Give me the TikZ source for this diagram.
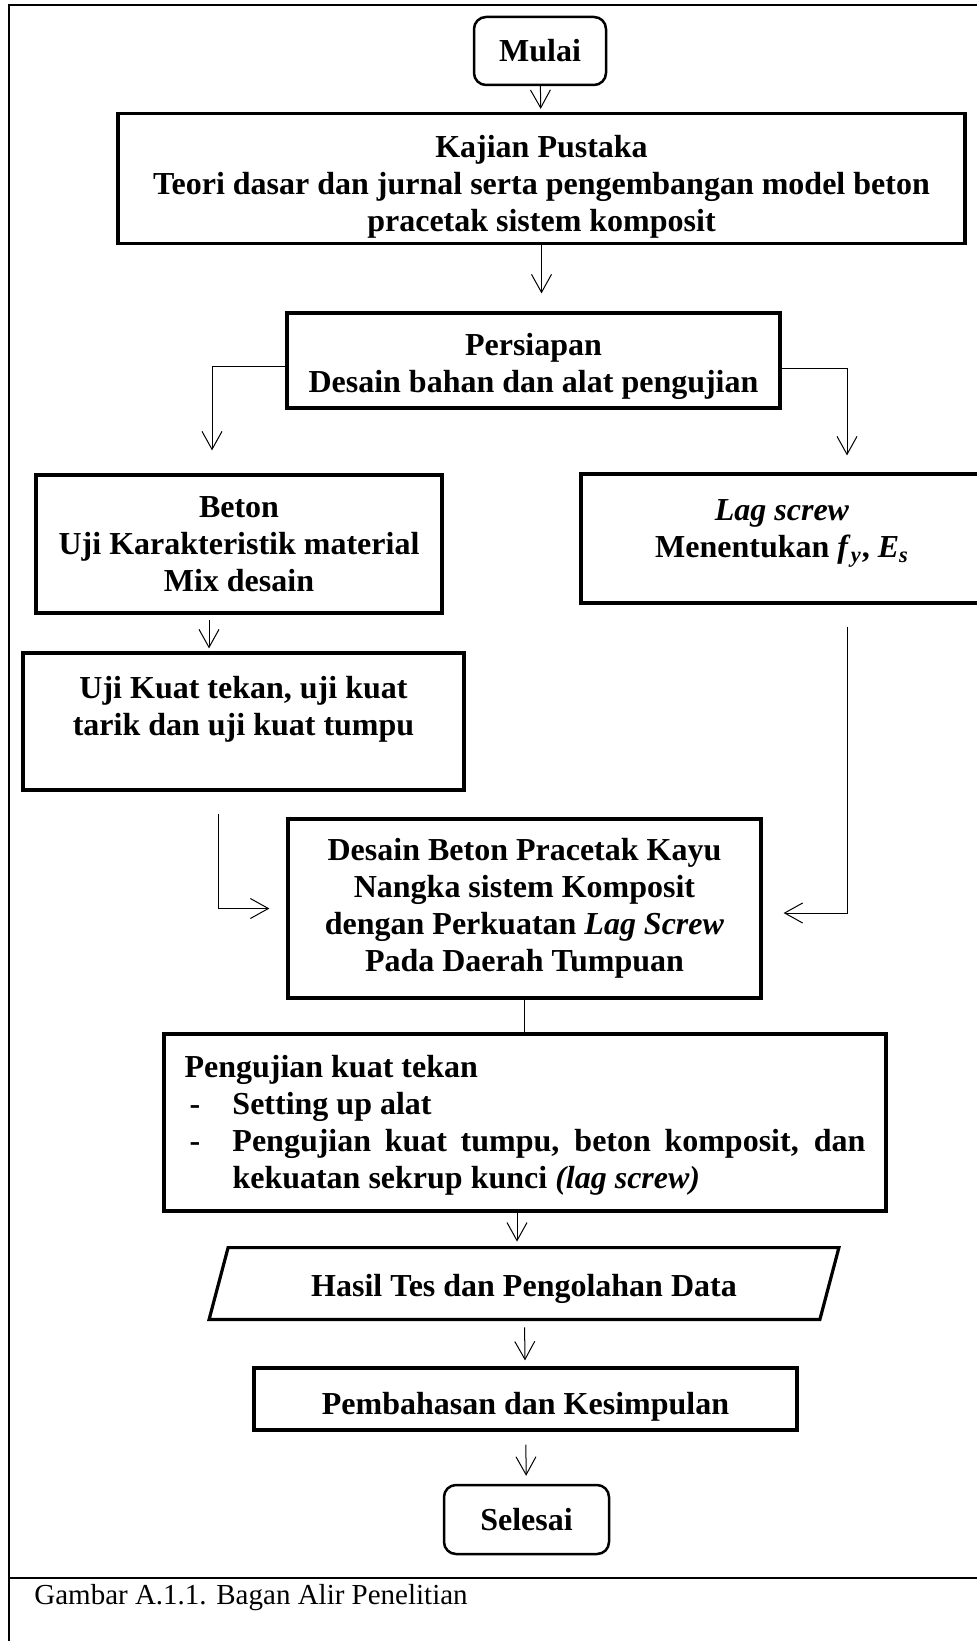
\documentclass[tikz,border=0pt]{standalone}
\usepackage{fontspec}
\setmainfont{Liberation Serif}
\usetikzlibrary{arrows.meta}

\begin{document}
\begin{tikzpicture}[x=0.5pt,y=-0.5pt,
	txt/.style={align=center, inner sep=0pt, font=\fontsize{16}{18.5}\selectfont\bfseries},
	outline/.style={line width=1.6pt},
	box/.style={txt, draw, outline},
	roundbox/.style={txt, draw, line width=1.25pt, rounded corners=6pt},
	conn/.style={line width=0.5pt},
	arr/.style={conn, -{Straight Barb[length=9pt,width=10pt]}},
	pageline/.style={line width=1.1pt}]
			\useasboundingbox (0,0) rectangle (977,1641);
			\clip (0,0) rectangle (977,1641);
			\draw[pageline] (995,5) -- (9,5) -- (9,1660);
			\draw[pageline] (9,1578) -- (995,1578);
			\node[roundbox, minimum width=66pt, minimum height=34pt] (mulai) at (540,51) {Mulai};
			\node[box, minimum width=423.5pt, minimum height=65pt] (kajian) at (541.5,178.5) {\rule{0pt}{19pt}Kajian Pustaka\\ Teori dasar dan jurnal serta pengembangan model beton\\ pracetak sistem komposit};
			\node[box, minimum width=246.5pt, minimum height=47.5pt] (persiapan) at (533.5,360.5) {\rule{0pt}{17.5pt}Persiapan\\ Desain bahan dan alat pengujian};
			\node[box, minimum width=203pt, minimum height=69pt] (beton) at (239,544) {Beton\\ Uji Karakteristik material\\ Mix desain};
			\node[box, minimum width=201pt, minimum height=64.5pt] (lag) at (782,538.5) {\rule{0pt}{19pt}\textit{Lag screw}\\ Menentukan \textit{f}\textsubscript{\textit{y}}, \textit{E}\textsubscript{\textit{s}}\\ \mbox{}};
			\node[box, minimum width=220.5pt, minimum height=68.5pt] (uji) at (243.5,721.5) {\rule{0pt}{14pt}Uji Kuat tekan, uji kuat\\ tarik dan uji kuat tumpu\\ \mbox{}};
			\node[box, minimum width=236.5pt, minimum height=89.5pt] (desain) at (524.5,908.5) {Desain Beton Pracetak Kayu\\ Nangka sistem Komposit\\ dengan Perkuatan \textit{Lag Screw}\\ Pada Daerah Tumpuan};
			\node[box, minimum width=361pt, minimum height=88.5pt, text width=340.5pt, align=flush left] (pengujian) at (525,1122.5) {\rule{0pt}{14pt}Pengujian kuat tekan\\
				\makebox[24pt][l]{\hspace{2.5pt}-}Setting up alat\\
				\makebox[24pt][l]{\hspace{2.5pt}-}\parbox[t]{316.5pt}{Pengujian kuat tumpu, beton komposit, dan\linebreak kekuatan sekrup kunci \textit{(lag screw)}}};
			\node[txt, minimum width=305pt, minimum height=35.5pt] (hasil) at (524,1283.5) {\rule{0pt}{17pt}Hasil Tes dan Pengolahan Data};
			\draw[outline] ([xshift=-4.75pt]hasil.south west) -- ([xshift=4.75pt]hasil.north west) -- ([xshift=4.75pt]hasil.north east) -- ([xshift=-4.75pt]hasil.south east) -- cycle;
			\node[box, minimum width=271.5pt, minimum height=31pt] (bahas) at (525.5,1399) {\rule{0pt}{19pt}Pembahasan dan Kesimpulan};
			\node[roundbox, minimum width=82.5pt, minimum height=34.5pt] (selesai) at (526.5,1519.5) {Selesai};
			\node[anchor=west, inner sep=0pt, font=\fontsize{14.5}{17}\selectfont] (caption) at (34,1598) {Gambar A.1.1. Bagan Alir Penelitian};
			\draw[arr, shorten >=1.5pt] (mulai) -- (kajian);
			\draw[arr, shorten >=9pt] (kajian.south) -- (kajian.south |- persiapan.north);
			\draw[arr, shorten >=11.5pt] ([yshift=-3pt]persiapan.west) -| ([xshift=-13.5pt]beton.north);
			\draw[arr, shorten >=8.5pt] ([yshift=-4pt]persiapan.east) -| ([xshift=32.5pt]lag.north);
			\draw[arr, shorten <=2.5pt, shorten >=1.5pt] ([xshift=-15pt]beton.south) -- ([xshift=-15pt]beton.south |- uji.north);
			\draw[arr, shorten <=11pt, shorten >=8.5pt] ([xshift=-12.75pt]uji.south) |- (desain.west);
			\draw[arr, shorten <=11pt, shorten >=10.5pt] ([xshift=32.5pt]lag.south) |- ([yshift=-2.25pt]desain.east);
			\draw[conn] (desain.south) -- (desain.south |- pengujian.north);
			\draw[arr, shorten >=3pt] ([xshift=-4pt]pengujian.south) -- ([xshift=-4pt]pengujian.south |- hasil.north);
			\draw[arr, shorten <=4pt, shorten >=3pt] (hasil) -- (bahas);
			\draw[arr, shorten <=6.5pt, shorten >=4pt] (bahas) -- (selesai);
		\end{tikzpicture}
\end{document}
